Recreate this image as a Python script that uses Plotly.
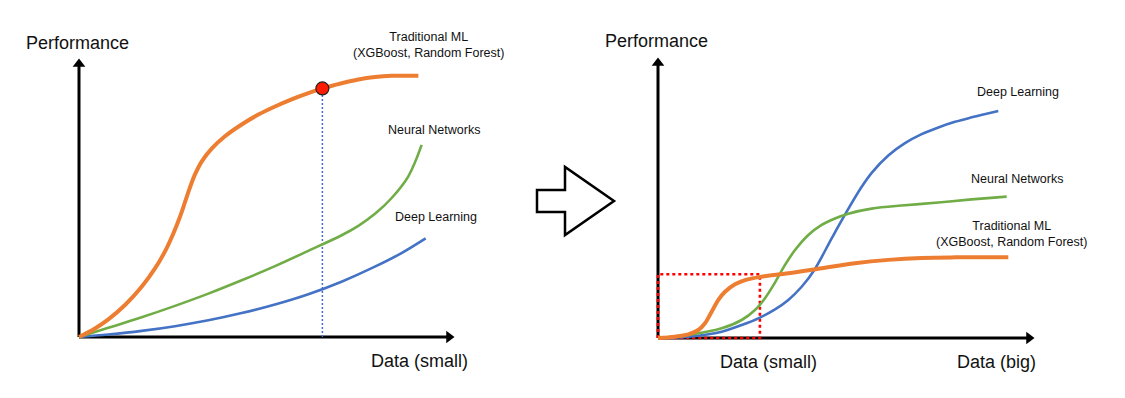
import plotly.graph_objects as go

W, H = 1125, 398

# ---------------- data (conceptual curves, units 0-100) ----------------
# Left panel: small data regime
left_trad_x = [0, 4.27, 7.82, 12.27, 16.71, 20.27, 22.93, 25.16, 26.93, 28.27, 29.6, 30.93, 32.71,
               35.38, 38.93, 43.38, 47.82, 52.27, 56.71, 61.16, 64.9, 70.04, 74.49, 78.93, 83.38, 90.5]
left_trad_y = [0, 3.07, 6.34, 11.5, 18.07, 24.66, 30.78, 37.25, 43.27, 48.5, 53.82, 58.48, 63.11,
               67.78, 72.22, 76.45, 80.0, 82.93, 85.5, 87.73, 89.41, 91.26, 92.6, 93.49, 93.93, 94.0]
left_nn_x = [0, 7.82, 16.71, 25.6, 34.49, 43.38, 52.27, 61.16, 70.04, 74.49, 78.93, 83.38, 87.82, 91.38]
left_nn_y = [0, 3.3, 7.1, 11.2, 15.6, 20.4, 25.5, 31.0, 36.6, 40.0, 44.3, 50.0, 57.8, 69.1]
left_dl_x = [0, 7.82, 16.71, 25.6, 34.49, 43.38, 52.27, 61.16, 70.0, 78.9, 86.0, 92.44]
left_dl_y = [0, 0.9, 2.2, 3.9, 6.0, 8.6, 11.7, 15.4, 19.9, 25.3, 30.2, 35.5]
left_marker_x = [64.9]
left_marker_y = [89.41]

# Right panel: small vs big data
right_trad_x = [0, 4.52, 8.07, 10.73, 12.5, 14.27, 16.05, 17.82, 20.48, 23.14, 27.57, 34.66, 43.53,
                52.39, 61.25, 70.12, 78.99, 93.17]
right_trad_y = [0, 0.48, 1.31, 2.86, 5.24, 9.4, 13.6, 16.5, 19.2, 20.7, 21.9, 23.1, 24.9,
                26.7, 27.9, 28.6, 28.8, 28.8]
right_nn_x = [0, 8.07, 16.93, 22.25, 25.8, 28.46, 31.12, 33.78, 36.44, 39.98, 43.53, 47.07, 50.62,
              56.83, 65.69, 74.56, 83.42, 92.73]
right_nn_y = [0, 1.07, 3.45, 6.43, 10.0, 14.2, 19.8, 26.1, 31.4, 36.8, 40.4, 42.7, 44.4,
              46.2, 47.4, 48.4, 49.5, 50.5]
right_dl_x = [0, 8.07, 16.93, 22.25, 27.13, 31.12, 34.66, 38.21, 41.58, 46.19, 49.92, 54.17, 56.83,
              61.25, 65.69, 70.12, 74.56, 78.99, 83.42, 90.5]
right_dl_y = [0, 0.48, 2.26, 4.64, 7.3, 10.2, 13.6, 18.3, 24.3, 35.6, 44.5, 54.0, 59.0,
              65.2, 69.6, 72.8, 75.2, 77.2, 78.8, 81.1]
small_box_x = [0, 27.1]
small_box_y = [0, 22.75]

labels_trad = "Traditional ML<br>(XGBoost, Random Forest)"
label_nn = "Neural Networks"
label_dl = "Deep Learning"

ORANGE = "#ED7D31"
GREEN = "#70AD47"
BLUE = "#4472C4"
FONT = "Liberation Sans, Arial, Helvetica, sans-serif"

fig = go.Figure()


def px_x(p):
    return p / W


def px_y(p):
    return 1 - p / H


# panel geometry: origin pixel and pixels per data unit
PAD = 12
panels = {
    "1": dict(ox=79, oy=337, sx=3.75, sy=2.78),
    "2": dict(ox=658, oy=338, sx=3.76, sy=2.80),
}
layout_axes = {}
for k, g in panels.items():
    x0 = g["ox"] - PAD * g["sx"]
    x1 = g["ox"] + (100 + PAD) * g["sx"]
    y0 = g["oy"] + PAD * g["sy"]
    y1 = g["oy"] - (100 + PAD) * g["sy"]
    xa = "xaxis" if k == "1" else "xaxis2"
    ya = "yaxis" if k == "1" else "yaxis2"
    layout_axes[xa] = dict(domain=[max(0, px_x(x0)), min(1, px_x(x1))], range=[-PAD, 100 + PAD],
                           visible=False, anchor="y" if k == "1" else "y2", fixedrange=True)
    layout_axes[ya] = dict(domain=[max(0, px_y(y0)), min(1, px_y(y1))], range=[-PAD, 100 + PAD],
                           visible=False, anchor="x" if k == "1" else "x2", fixedrange=True)


def add_axes(xr, yr, g):
    xtip = 100 - 5 / g["sx"]
    ytip = 100 - 5 / g["sy"]
    fig.add_trace(go.Scatter(x=[0, xtip], y=[0, 0], mode="lines", xaxis=xr, yaxis=yr,
                             line=dict(color="black", width=3), hoverinfo="skip", showlegend=False))
    fig.add_trace(go.Scatter(x=[0, 0], y=[0, ytip], mode="lines", xaxis=xr, yaxis=yr,
                             line=dict(color="black", width=3), hoverinfo="skip", showlegend=False))
    fig.add_trace(go.Scatter(x=[xtip], y=[0], mode="markers", xaxis=xr, yaxis=yr, cliponaxis=False,
                             marker=dict(symbol="triangle-right", size=11, color="black"),
                             hoverinfo="skip", showlegend=False))
    fig.add_trace(go.Scatter(x=[0], y=[ytip], mode="markers", xaxis=xr, yaxis=yr, cliponaxis=False,
                             marker=dict(symbol="triangle-up", size=11, color="black"),
                             hoverinfo="skip", showlegend=False))


SM = 1.0

# ---------------- left panel ----------------
add_axes("x", "y", panels["1"])
fig.add_trace(go.Scatter(x=[left_marker_x[0], left_marker_x[0]], y=[0, left_marker_y[0]],
                         mode="lines", line=dict(color=BLUE, width=1.5, dash="2px,2px"),
                         hoverinfo="skip", showlegend=False))
fig.add_trace(go.Scatter(x=left_dl_x, y=left_dl_y, mode="lines",
                         line=dict(color=BLUE, width=2.6, shape="spline", smoothing=SM),
                         name=label_dl, showlegend=False))
fig.add_trace(go.Scatter(x=left_nn_x, y=left_nn_y, mode="lines",
                         line=dict(color=GREEN, width=2.6, shape="spline", smoothing=SM),
                         name=label_nn, showlegend=False))
fig.add_trace(go.Scatter(x=left_trad_x, y=left_trad_y, mode="lines",
                         line=dict(color=ORANGE, width=4, shape="spline", smoothing=SM),
                         name="Traditional ML", showlegend=False))
fig.add_trace(go.Scatter(x=left_marker_x, y=left_marker_y, mode="markers",
                         marker=dict(color="#FF1A00", size=13, line=dict(color="#222", width=1.2)),
                         hoverinfo="skip", showlegend=False))

# ---------------- right panel ----------------
add_axes("x2", "y2", panels["2"])
bx0, bx1 = small_box_x
by0, by1 = small_box_y
fig.add_trace(go.Scatter(x=[bx0, bx0, bx1, bx1, bx0], y=[by0, by1, by1, by0, by0], mode="lines",
                         xaxis="x2", yaxis="y2", line=dict(color="#FF0000", width=2.6, dash="3px,3px"),
                         hoverinfo="skip", showlegend=False))
fig.add_trace(go.Scatter(x=right_dl_x, y=right_dl_y, mode="lines", xaxis="x2", yaxis="y2",
                         line=dict(color=BLUE, width=2.6, shape="spline", smoothing=SM),
                         name=label_dl, showlegend=False))
fig.add_trace(go.Scatter(x=right_nn_x, y=right_nn_y, mode="lines", xaxis="x2", yaxis="y2",
                         line=dict(color=GREEN, width=2.6, shape="spline", smoothing=SM),
                         name=label_nn, showlegend=False))
fig.add_trace(go.Scatter(x=right_trad_x, y=right_trad_y, mode="lines", xaxis="x2", yaxis="y2",
                         line=dict(color=ORANGE, width=4, shape="spline", smoothing=SM),
                         name="Traditional ML", showlegend=False))

# ---------------- text ----------------
big = dict(family=FONT, size=18, color="#111")
small = dict(family=FONT, size=12.5, color="#111")
ann = []


def text(s, x, y, xr, yr, font):
    ann.append(dict(text=s, x=x, y=y, xref=xr, yref=yr, showarrow=False, font=font,
                    xanchor="center", yanchor="middle", align="center"))


text("Performance", -0.5, 105.8, "x", "y", big)
text("Data (small)", 90.9, -8.6, "x", "y", big)
text(labels_trad, 93.3, 105.0, "x", "y", small)
text(label_nn, 94.7, 74.5, "x", "y", small)
text(label_dl, 95.2, 43.2, "x", "y", small)

text("Performance", -0.3, 106.0, "x2", "y2", big)
text("Data (small)", 29.5, -8.6, "x2", "y2", big)
text("Data (big)", 89.9, -8.6, "x2", "y2", big)
text(label_dl, 95.7, 87.9, "x2", "y2", small)
text(label_nn, 95.5, 56.8, "x2", "y2", small)
text(labels_trad, 94.1, 37.1, "x2", "y2", small)

# ---------------- hollow block arrow between panels ----------------
arrow_px = [(537, 190), (565, 190), (565, 167), (614, 201), (565, 235), (565, 212), (537, 212)]
path = "M " + " L ".join(f"{px_x(a):.5f},{px_y(b):.5f}" for a, b in arrow_px) + " Z"
shapes = [dict(type="path", path=path, xref="paper", yref="paper",
               line=dict(color="black", width=2.5), fillcolor="white")]

fig.update_layout(
    width=W, height=H, autosize=False,
    margin=dict(l=0, r=0, t=0, b=0),
    paper_bgcolor="white", plot_bgcolor="rgba(0,0,0,0)",
    showlegend=False, annotations=ann, shapes=shapes,
    **layout_axes,
)

fig.write_html("out.html", config={"displayModeBar": False},
               post_script="document.body.style.margin='0';")
